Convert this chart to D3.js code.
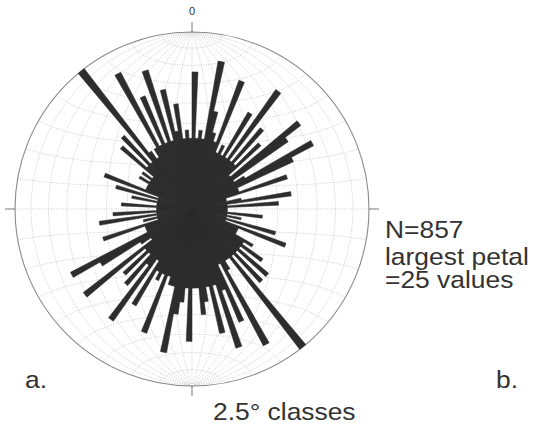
<!DOCTYPE html>
<html>
<head>
<meta charset="utf-8">
<script src="https://cdn.jsdelivr.net/npm/d3@7/dist/d3.min.js"></script>
<style>
  html, body { margin: 0; padding: 0; background: #fff; }
  svg { display: block; }
  text { font-family: "Liberation Sans", Arial, sans-serif; fill: #333; }
</style>
</head>
<body>
<svg id="chart" width="549" height="433"></svg>
<script>
// Rose diagram of azimuths, 2.5° classes, plotted over an equal-area (Schmidt) net.
const classWidth = 2.5;          // degrees per class
const maxCount = 25;             // largest petal

// Counts per class, clockwise from north: [0,2.5), [2.5,5), ...
const counts0to45    = [15,4,5,4,18,8,5,4,15,3,4,3,10,3,17,3,9,3];
const counts45to90   = [7,2,15,11,2,3,15,10,2,2,8,1,1,2,8,1,6,1];
const counts90to135  = [1,1,4,1,2,1,6,1,8,2,2,2,4,3,6,3,8,3];
const counts135to180 = [8,3,25,3,3,4,19,3,12,6,17,5,13,5,7,9,5,5];
const counts180to225 = [14,5,7,9,17,5,5,4,14,4,5,4,10,3,15,4,8,3];
const counts225to270 = [7,3,15,2,3,9,15,2,2,2,7,1,2,1,7,1,5,1];
const counts270to315 = [1,4,1,1,3,1,5,1,7,2,2,2,3,2,3,2,7,3];
const counts315to360 = [8,3,25,4,3,4,19,4,12,4,17,4,12,5,9,4,5,4];

const counts = [].concat(counts0to45, counts45to90, counts90to135, counts135to180,
                         counts180to225, counts225to270, counts270to315, counts315to360);
const totalN = d3.sum(counts);   // 857

const northLabel = "0";
const infoLines = ["N=" + totalN, "largest petal", "=" + d3.max(counts) + " values"];
const classLabel = classWidth + "° classes";
const panelLabels = ["a.", "b."];

const W = 549, H = 433;
const cx = 192, cy = 209, R = 177;

const svg = d3.select("#chart");
svg.append("rect").attr("width", W).attr("height", H).attr("fill", "#fff");

// ---- Schmidt net (equal-area), 10° graticule ----
const proj = d3.geoAzimuthalEqualArea()
  .scale(R / Math.SQRT2)
  .translate([cx, cy])
  .clipAngle(90 - 1e-6)
  .precision(0.1);
const geoPath = d3.geoPath(proj);

const graticule = d3.geoGraticule()
  .extentMajor([[-180, -89.999], [180, 89.999]])
  .extentMinor([[-180, -89.999], [180, 89.999]])
  .step([10, 10]);

const net = svg.append("g").attr("class", "net");
net.append("path")
  .datum(graticule())
  .attr("d", geoPath)
  .attr("fill", "none")
  .attr("stroke", "#c2c2c2")
  .attr("stroke-width", 0.8)
  .attr("stroke-dasharray", "1,1.4");

// primitive circle
net.append("circle")
  .attr("cx", cx).attr("cy", cy).attr("r", R)
  .attr("fill", "none")
  .attr("stroke", "#8a8a8a")
  .attr("stroke-width", 1.1);

// cardinal ticks outside the primitive
const tickLen = 10;
const ticks = [
  [cx, cy - R - tickLen, cx, cy - R],
  [cx, cy + R, cx, cy + R + tickLen],
  [cx - R - tickLen, cy, cx - R, cy],
  [cx + R, cy, cx + R + tickLen, cy]
];
net.selectAll("line.tick").data(ticks).join("line")
  .attr("class", "tick")
  .attr("x1", d => d[0]).attr("y1", d => d[1])
  .attr("x2", d => d[2]).attr("y2", d => d[3])
  .attr("stroke", "#777").attr("stroke-width", 1);

// ---- petals (equal-area scaling: radius ~ sqrt(count)) ----
const rScale = d3.scaleSqrt().domain([0, maxCount]).range([0, R]);
const toRad = Math.PI / 180;
const arc = d3.arc()
  .innerRadius(0)
  .outerRadius(d => rScale(d.count))
  .startAngle(d => d.from * toRad)
  .endAngle(d => d.to * toRad);

const petals = counts.map((c, i) => ({ count: c, from: i * classWidth, to: (i + 1) * classWidth }))
  .filter(d => d.count > 0);

// all petals in one path so that neighbouring wedges join without seams
svg.append("g")
  .attr("class", "rose")
  .attr("transform", `translate(${cx},${cy})`)
  .append("path")
  .datum(petals)
  .attr("d", ps => ps.map(p => arc(p)).join(""))
  .attr("fill", "#2d2d2d")
  .attr("stroke", "#2d2d2d")
  .attr("stroke-width", 0.5)
  .attr("stroke-linejoin", "round");

// ---- labels ----
svg.append("text")
  .attr("x", cx).attr("y", 15)
  .attr("text-anchor", "middle")
  .attr("font-size", 11)
  .attr("fill", "#555")
  .text(northLabel);

const info = svg.append("g").attr("transform", "translate(385,0) scale(1.1,1)");
const infoY = [238, 265, 288];
infoLines.forEach((t, i) => {
  info.append("text")
    .attr("x", 0).attr("y", infoY[i])
    .attr("font-size", 24)
    .text(t);
});

svg.append("g").attr("transform", "translate(25,0) scale(1.1,1)")
  .append("text").attr("x", 0).attr("y", 388).attr("font-size", 24).text(panelLabels[0]);
svg.append("g").attr("transform", "translate(496,0) scale(1.1,1)")
  .append("text").attr("x", 0).attr("y", 388).attr("font-size", 24).text(panelLabels[1]);
svg.append("g").attr("transform", "translate(213,0) scale(1.1,1)")
  .append("text").attr("x", 0).attr("y", 420).attr("font-size", 24).text(classLabel);
</script>
</body>
</html>
